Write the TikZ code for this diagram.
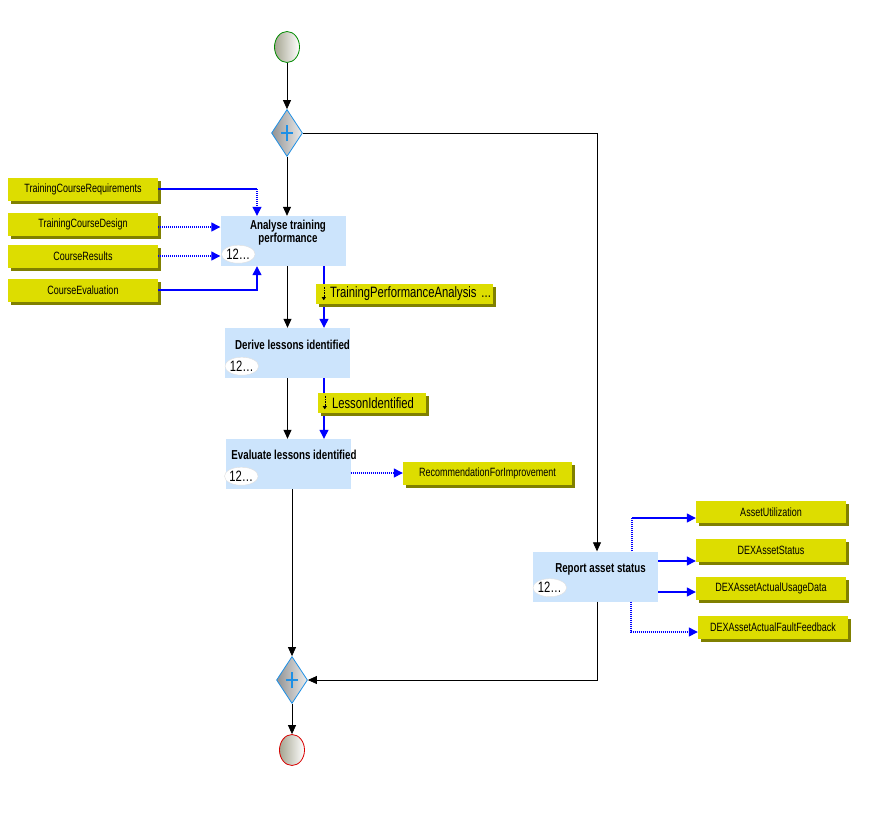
\documentclass[tikz,border=0pt]{standalone}
\usepackage{fontspec}
\setmainfont{Liberation Sans}
\newfontfamily\dfont[FakeStretch=0.75]{Liberation Sans}
\usetikzlibrary{positioning,shapes.geometric,arrows.meta,shadows}
\definecolor{taskblue}{RGB}{204,228,252}
\definecolor{datayellow}{RGB}{221,221,0}
\definecolor{datashadow}{RGB}{128,128,0}
\definecolor{gwblue}{RGB}{30,144,230}
\definecolor{evgray}{RGB}{165,165,145}

\begin{document}
\begin{tikzpicture}[x=1pt, y=-1pt,
    event/.style={ellipse, minimum width=25pt, minimum height=31pt, inner sep=0pt, left color=evgray, right color=white, line width=0.8pt},
    gateway/.style={diamond, minimum width=31pt, minimum height=47pt, inner sep=0pt, draw=gwblue, line width=0.8pt, left color=gray!85, right color=gray!15,
        path picture={\draw[gwblue, line width=2.2pt] ([xshift=-6pt]path picture bounding box.center) -- ([xshift=6pt]path picture bounding box.center)
            ([yshift=-8pt]path picture bounding box.center) -- ([yshift=8pt]path picture bounding box.center);}},
    task/.style={rectangle, fill=taskblue, minimum width=125pt, minimum height=50pt, inner sep=0pt},
    tasktext/.style={font=\dfont\bfseries\fontsize{13}{12}\selectfont, align=center, inner sep=0pt},
    num/.style={ellipse, fill=white, draw=gray!25, minimum width=31pt, minimum height=18pt, inner sep=0pt, font=\dfont\fontsize{15}{15}\selectfont},
    data/.style={rectangle, fill=datayellow, minimum width=150pt, minimum height=23pt, inner sep=0pt, font=\dfont\fontsize{12}{14}\selectfont,
        general shadow={fill=datashadow, shadow xshift=3pt, shadow yshift=-3pt}},
    flowdata/.style={data, minimum width=#1, minimum height=20pt, text width=#1, align=left, font=\dfont\fontsize{15}{16}\selectfont},
    flow/.style={draw=black, line width=0.8pt, -{Triangle[width=8pt,length=9pt]}},
    bluetip/.style={-{Triangle[width=9pt,length=9pt]}},
    dataline/.style={draw=blue, line width=1.3pt},
    datadot/.style={draw=blue, line width=1.3pt, dash pattern=on 1.2pt off 0.8pt}
]
\useasboundingbox (0,0) rectangle (886,812);

\node[event, draw=green!55!black] (start) at (287,47) {};
\node[gateway] (split) at (287,133) {};
\node[gateway] (join) at (292,680) {};
\node[event, draw=red!85!black] (end) at (292,750) {};

\node[task] (analyse) at (283,241) {};
\node[task] (derive) at (287.5,353) {};
\node[task] (evaluate) at (288,464) {};
\node[task] (report) at (595.5,576.5) {};

\node[tasktext] (analyse-t) at ([xshift=5pt,yshift=-17pt]analyse.north) {Analyse training\\performance};
\node[tasktext] (derive-t) at ([xshift=5pt,yshift=-17pt]derive.north) {Derive lessons identified};
\node[tasktext] (evaluate-t) at ([xshift=6pt,yshift=-16pt]evaluate.north) {Evaluate lessons identified};
\node[tasktext] (report-t) at ([xshift=5pt,yshift=-18pt]report.north) {Report asset status};

\node[num] (analyse-n) at ([shift={(18pt,12pt)}]analyse.south west) {12\ldots};
\node[num] (derive-n) at ([shift={(17pt,12pt)}]derive.south west) {12\ldots};
\node[num] (evaluate-n) at ([shift={(16pt,13pt)}]evaluate.south west) {12\ldots};
\node[num] (report-n) at ([shift={(17pt,14pt)}]report.south west) {12\ldots};

\node[data] (tcr) at (83,189) {TrainingCourseRequirements};
\node[data] (tcd) at (83,224) {TrainingCourseDesign};
\node[data] (cres) at (83,256) {CourseResults};
\node[data] (ceval) at (83,290) {CourseEvaluation};
\node[data, minimum width=169pt] (rfi) at (487.5,473) {RecommendationForImprovement};
\node[data, minimum height=22pt] (au) at (771,512) {AssetUtilization};
\node[data] (das) at (771,550.5) {DEXAssetStatus};
\node[data] (daud) at (771,588.5) {DEXAssetActualUsageData};
\node[data] (daff) at (773,627.5) {DEXAssetActualFaultFeedback};

\coordinate (inx) at (257,189);
\coordinate (flowx) at (324,0);
\coordinate (aubend) at (632,518);
\coordinate (dasy) at (658,561);
\coordinate (dauy) at (658,592);
\coordinate (ffbend) at (631,632);

% sequence flow
\draw[flow] (start) -- (split);
\draw[flow] (split.south) -- (split.south |- analyse.north);
\draw[flow] (split.east) -| ([xshift=1.5pt]report.north);
\draw[flow] (analyse.south -| derive.north) -- (derive.north);
\draw[flow] (derive.south) -- (derive.south |- evaluate.north);
\draw[flow] (evaluate.south -| join.north) -- (join.north);
\draw[flow] ([xshift=1.5pt]report.south) |- (join.east);
\draw[flow] (join) -- (end);

% data flow
\draw[dataline] (tcr.east) -- (inx);
\draw[datadot, bluetip] (inx) -- (inx |- analyse.north);
\draw[datadot, bluetip] ([yshift=-3pt]tcd.east) -- ([yshift=-3pt]tcd.east -| analyse.west);
\draw[datadot, bluetip] (cres.east) -- (cres.east -| analyse.west);
\draw[dataline, bluetip] (ceval.east) -| (analyse.south -| inx);
\draw[dataline, bluetip] (analyse.south -| flowx) -- (derive.north -| flowx);
\draw[dataline, bluetip] (derive.south -| flowx) -- (evaluate.north -| flowx);
\draw[datadot, bluetip] (evaluate.east |- rfi.west) -- (rfi.west);
\draw[datadot] (report.north -| aubend) -- (aubend);
\draw[dataline, bluetip] (aubend) -- (aubend -| au.west);
\draw[dataline, bluetip] (dasy) -- (dasy -| das.west);
\draw[dataline, bluetip] (dauy) -- (dauy -| daud.west);
\draw[datadot, bluetip] (report.south -| ffbend) -- (ffbend) -- (ffbend -| daff.west);

\node[flowdata=177pt] (tpa) at (404.5,294) {\hspace*{14pt}TrainingPerformanceAnalysis ...};
\node[flowdata=108pt] (li) at (372,403) {\hspace*{14pt}LessonIdentified};
\draw[densely dotted, line width=0.6pt, -{Triangle[width=4pt,length=3pt]}] ([xshift=8pt,yshift=-3pt]tpa.north west) -- ([xshift=8pt,yshift=4pt]tpa.south west);
\draw[densely dotted, line width=0.6pt, -{Triangle[width=4pt,length=3pt]}] ([xshift=7pt,yshift=-3pt]li.north west) -- ([xshift=7pt,yshift=4pt]li.south west);
\end{tikzpicture}
\end{document}
